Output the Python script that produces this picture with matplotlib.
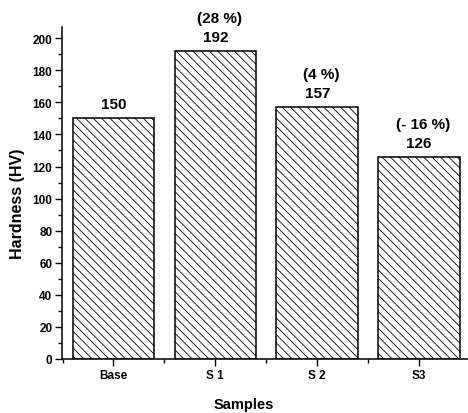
import matplotlib

matplotlib.use("Agg")
import matplotlib.pyplot as plt
from matplotlib.ticker import MultipleLocator

# data
samples = ["Base", "S 1", "S 2", "S3"]
hardness = [150, 192, 157, 126]
change_labels = ["", "(28 %)", "(4 %)", "(- 16 %)"]

plt.rcParams["font.family"] = ["Liberation Sans", "DejaVu Sans"]
plt.rcParams["font.weight"] = "bold"
plt.rcParams["hatch.linewidth"] = 0.6
plt.rcParams["hatch.color"] = "#555555"

fig = plt.figure(figsize=(4.68, 4.14), dpi=100)
ax = fig.add_axes([62 / 468, 54 / 414, 1 - 62 / 468, 332 / 414])

x = list(range(len(samples)))
ax.bar(
    x,
    hardness,
    width=0.8,
    facecolor="white",
    edgecolor="black",
    linewidth=1.1,
    hatch="\\\\\\\\",
)

for xi, val, pct in zip(x, hardness, change_labels):
    ax.annotate(
        str(val),
        (xi, val),
        xytext=(0, 5),
        textcoords="offset points",
        ha="center",
        va="bottom",
        fontsize=11,
        fontweight="bold",
    )
    if pct:
        ax.annotate(
            pct,
            (xi + 0.04, val),
            xytext=(0, 19),
            textcoords="offset points",
            ha="center",
            va="bottom",
            fontsize=11,
            fontweight="bold",
        )

ax.set_xlim(-0.505, 3.48)
ax.set_ylim(0, 207)
ax.set_xticks(x)
ax.set_xticklabels(samples)
ax.xaxis.set_minor_locator(MultipleLocator(1, offset=0.5))
ax.yaxis.set_major_locator(MultipleLocator(20))
ax.yaxis.set_minor_locator(MultipleLocator(10))

for side in ["top", "right"]:
    ax.spines[side].set_visible(False)
for side in ["left", "bottom"]:
    ax.spines[side].set_linewidth(1.1)

ax.tick_params(which="major", direction="out", length=5, width=1.0, labelsize=8.5, pad=2)
ax.tick_params(which="minor", direction="out", length=3, width=1.0)
for lab in ax.get_xticklabels() + ax.get_yticklabels():
    lab.set_fontweight("bold")

ax.set_xlabel("Samples", fontsize=10.5, fontweight="bold")
ax.xaxis.set_label_coords((244 - 62) / 406, -0.114)
ax.set_ylabel("Hardness (HV)", fontsize=11.5, fontweight="bold")
ax.yaxis.set_label_coords(-0.09, 0.47)

fig.savefig("out.png", dpi=100)
